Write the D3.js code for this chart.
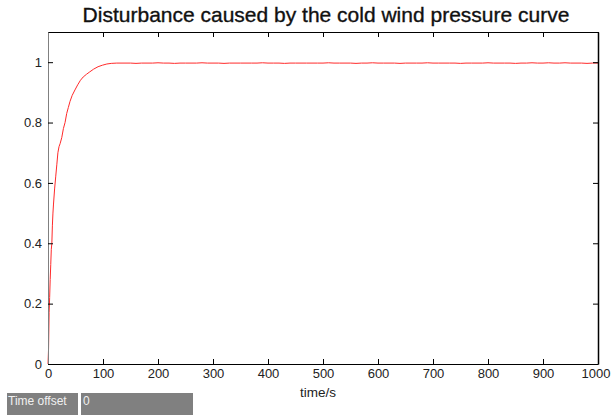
<!DOCTYPE html>
<html>
<head>
<meta charset="utf-8">
<script src="https://cdn.jsdelivr.net/npm/d3@7"></script>
<style>
  html, body { margin: 0; padding: 0; background: #fff; }
  svg { display: block; font-family: "Liberation Sans", Arial, Helvetica, sans-serif; }
</style>
</head>
<body>
<svg id="chart" width="611" height="418"></svg>
<script>
// Step response of the cold wind pressure disturbance (time in s, normalised value)
const timeRise = [0, 1, 2, 3, 4, 5, 6, 7, 8, 9, 10, 12, 14, 16, 18, 20, 22, 25, 28, 31, 34, 37, 40, 44, 49, 54, 59, 64, 70, 76, 83, 91, 99, 107, 115, 125];
const valueRise = [0, 0.05, 0.17, 0.22, 0.28, 0.33, 0.38, 0.40, 0.46, 0.50, 0.53, 0.58, 0.62, 0.66, 0.70, 0.72, 0.73, 0.75, 0.78, 0.80, 0.83, 0.85, 0.87, 0.89, 0.908, 0.925, 0.94, 0.951, 0.96, 0.968, 0.977, 0.985, 0.99, 0.994, 0.996, 0.997];
const timeFlat = [140, 150, 160, 170, 180, 190, 200, 210, 220, 230, 240, 250, 260, 270, 280, 290, 300, 310, 320, 330, 340, 350, 360, 370, 380, 390, 400, 410, 420, 430, 440, 450, 460, 470, 480, 490, 500, 510, 520, 530, 540, 550, 560, 570, 580, 590, 600, 610, 620, 630, 640, 650, 660, 670, 680, 690, 700, 710, 720, 730, 740, 750, 760, 770, 780, 790, 800, 810, 820, 830, 840, 850, 860, 870, 880, 890, 900, 910, 920, 930, 940, 950, 960, 970, 980, 990, 1000];
const valueFlat = [0.997, 0.997, 0.996, 0.997, 0.997, 0.997, 0.998, 0.997, 0.997, 0.996, 0.997, 0.997, 0.997, 0.997, 0.998, 0.997, 0.997, 0.997, 0.996, 0.997, 0.997, 0.997, 0.997, 0.997, 0.997, 0.998, 0.997, 0.997, 0.997, 0.996, 0.997, 0.997, 0.997, 0.997, 0.997, 0.997, 0.997, 0.998, 0.997, 0.997, 0.997, 0.997, 0.996, 0.997, 0.997, 0.998, 0.997, 0.997, 0.997, 0.997, 0.996, 0.997, 0.997, 0.997, 0.997, 0.998, 0.997, 0.997, 0.997, 0.997, 0.997, 0.996, 0.997, 0.997, 0.997, 0.997, 0.998, 0.997, 0.997, 0.997, 0.997, 0.996, 0.997, 0.997, 0.998, 0.997, 0.997, 0.998, 0.997, 0.997, 0.998, 0.997, 0.997, 0.997, 0.996, 0.997, 0.997];

const xTicks = [0, 100, 200, 300, 400, 500, 600, 700, 800, 900, 1000];
const yTicks = [0, 0.2, 0.4, 0.6, 0.8, 1];
const yTickLabels = ["0", "0.2", "0.4", "0.6", "0.8", "1"];

const titleText = "Disturbance caused by the cold wind pressure curve";
const xLabelText = "time/s";
const offsetLabel = "Time offset";
const offsetValue = "0";

const svg = d3.select("#chart");
const plot = { left: 48, right: 598, top: 32, bottom: 364 };

const x = d3.scaleLinear().domain([0, 1000]).range([plot.left, plot.right]);
const y = d3.scaleLinear().domain([0, 1.1]).range([plot.bottom, plot.top]);

const times = timeRise.concat(timeFlat);
const values = valueRise.concat(valueFlat);
const points = times.map((t, i) => [t, values[i]]);

// Title
svg.append("text")
  .attr("x", 326)
  .attr("y", 22)
  .attr("text-anchor", "middle")
  .attr("font-size", 21)
  .attr("fill", "#111")
  .attr("stroke", "#111")
  .attr("stroke-width", 0.35)
  .text(titleText);

// Curve
svg.append("path")
  .datum(points)
  .attr("fill", "none")
  .attr("stroke", "#ff2a2a")
  .attr("stroke-width", 1)
  .attr("d", d3.line().x(d => x(d[0])).y(d => y(d[1])));

// Bottom axis with inward ticks
const xAxis = svg.append("g")
  .attr("transform", `translate(0,${plot.bottom})`)
  .call(d3.axisBottom(x).tickValues(xTicks).tickSizeInner(-5).tickSizeOuter(0).tickPadding(5).tickFormat(d3.format("d")));
xAxis.select(".domain").attr("stroke", "#000");
xAxis.selectAll("text").attr("font-size", 13).attr("fill", "#222");
// keep the last label inside the canvas edge
xAxis.selectAll(".tick").filter(d => d === 1000).select("text")
  .attr("text-anchor", "end").attr("x", 611 - plot.right - 1);

// Top axis (ticks only)
const xTop = svg.append("g")
  .attr("transform", `translate(0,${plot.top})`)
  .call(d3.axisTop(x).tickValues(xTicks).tickSizeInner(-5).tickSizeOuter(0).tickFormat(""));
xTop.select(".domain").attr("stroke", "#000");

// Left axis
const yAxis = svg.append("g")
  .attr("transform", `translate(${plot.left},0)`)
  .call(d3.axisLeft(y).tickValues(yTicks).tickSizeInner(-5).tickSizeOuter(0).tickPadding(6)
    .tickFormat((d, i) => yTickLabels[i]));
yAxis.select(".domain").attr("stroke", "#808080");
yAxis.selectAll("text").attr("font-size", 13).attr("fill", "#222");

// Right axis (ticks only)
const yRight = svg.append("g")
  .attr("transform", `translate(${plot.right},0)`)
  .call(d3.axisRight(y).tickValues(yTicks).tickSizeInner(-5).tickSizeOuter(0).tickFormat(""));
yRight.select(".domain").attr("stroke", "#000").attr("stroke-width", 1.5);

// Axis label
svg.append("text")
  .attr("x", 318)
  .attr("y", 397)
  .attr("text-anchor", "middle")
  .attr("font-size", 13.5)
  .attr("fill", "#222")
  .text(xLabelText);

// Time offset control
const ctrl = svg.append("g");
ctrl.append("rect").attr("x", 7).attr("y", 393).attr("width", 71).attr("height", 22).attr("fill", "#808080");
ctrl.append("rect").attr("x", 81).attr("y", 393).attr("width", 112).attr("height", 22).attr("fill", "#808080");
ctrl.append("text").attr("x", 8).attr("y", 405).attr("font-size", 12).attr("fill", "#f0f0f0").text(offsetLabel);
ctrl.append("text").attr("x", 83).attr("y", 405).attr("font-size", 12).attr("fill", "#f0f0f0").text(offsetValue);
</script>
</body>
</html>
